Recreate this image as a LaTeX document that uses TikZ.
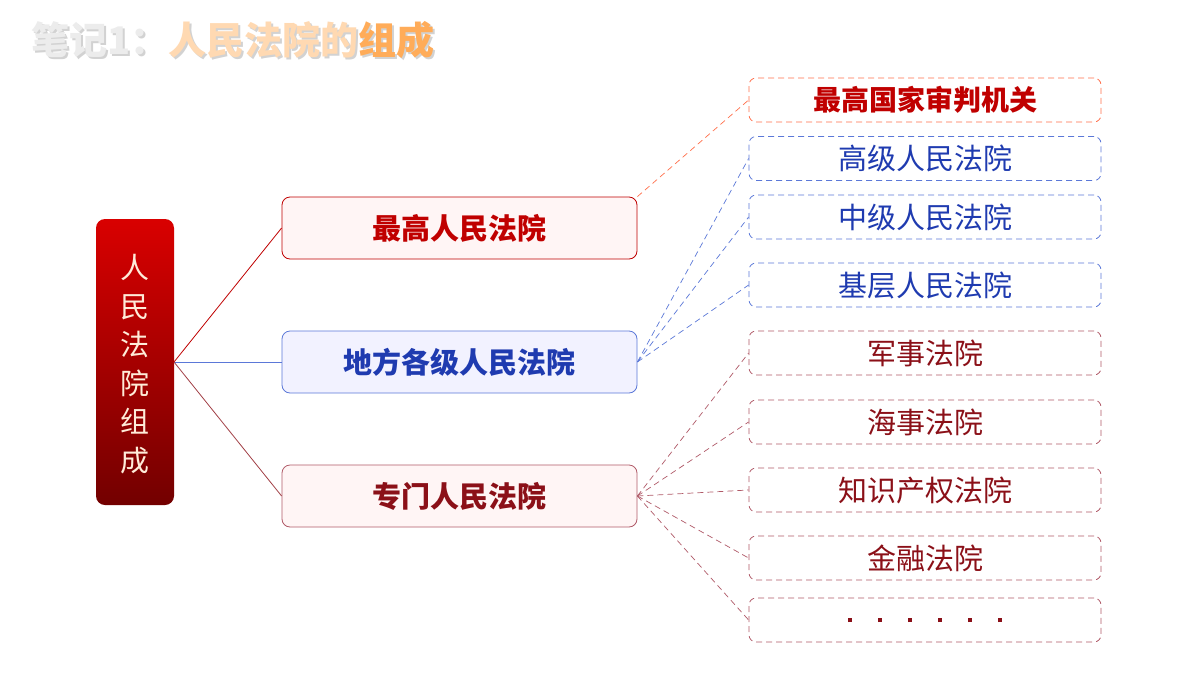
\documentclass[tikz,border=0pt]{standalone}
\usepackage{fontspec}
\newfontfamily\cjk{Noto Sans CJK SC}
\usetikzlibrary{shadows}
\definecolor{cred}{HTML}{C00000}
\definecolor{cblue}{HTML}{1F3BB0}
\definecolor{cdred}{HTML}{8B1018}
\definecolor{lblue}{HTML}{5B78D8}
\definecolor{ldred}{HTML}{B05A68}
\tikzset{
 mid/.style={draw, rounded corners=8pt, minimum width=355pt, minimum height=62pt, font=\cjk\fontsize{29pt}{32pt}\selectfont\bfseries, line width=0.8pt},
 rbox/.style={draw, dash pattern=on 6pt off 4pt, rounded corners=7pt, minimum width=352pt, minimum height=44pt, font=\cjk\fontsize{29pt}{32pt}\selectfont, line width=0.8pt},
 conn/.style={dash pattern=on 6pt off 4pt, line width=0.7pt}
}
\begin{document}
\begin{tikzpicture}[x=1pt,y=-1pt]
\useasboundingbox (0,0) rectangle (1200,675);
\fill[white] (0,0) rectangle (1200,675);
% title
\node[anchor=west, text=gray!35, font=\cjk\fontsize{38pt}{40pt}\selectfont\bfseries] at (30,42) {笔记1：人民法院的组成};
\node[anchor=west, text=gray!15, font=\cjk\fontsize{38pt}{40pt}\selectfont\bfseries] at (28,40) {笔记1：\textcolor{orange!30!white}{人民法院的}\textcolor{orange!65!white}{组成}};
% left box
\shade[top color=red!85!black, bottom color=red!45!black, rounded corners=9pt] (96,219) rectangle (174,505);
\node[inner sep=0, align=center, text=orange!15!white, font=\cjk\fontsize{29pt}{38.5pt}\selectfont] (L) at (135,364) {人\\民\\法\\院\\组\\成};
\coordinate (Lr) at (174,362);
% mid boxes
\node[mid, draw=cred, fill=red!4, text=cred] (M1) at (459.5,228) {最高人民法院};
\node[mid, draw=lblue, fill=blue!5, text=cblue] (M2) at (459.5,362) {地方各级人民法院};
\node[mid, draw=ldred, fill=red!4, text=cdred] (M3) at (459.5,496) {专门人民法院};
\draw[cred, line width=0.8pt] (Lr) -- (M1.west);
\draw[lblue, line width=0.8pt] (Lr) -- (M2.west);
\draw[cdred!80, line width=0.8pt] (Lr) -- (M3.west);
% right boxes
\node[rbox, draw=red!60!orange!70, text=cred, font=\cjk\fontsize{28pt}{32pt}\selectfont\bfseries] (R0) at (925,100) {最高国家审判机关};
\node[rbox, draw=lblue, text=cblue] (R1) at (925,158.5) {高级人民法院};
\node[rbox, draw=lblue, text=cblue] (R2) at (925,217) {中级人民法院};
\node[rbox, draw=lblue, text=cblue] (R3) at (925,285) {基层人民法院};
\node[rbox, draw=ldred, text=cdred] (R4) at (925,353) {军事法院};
\node[rbox, draw=ldred, text=cdred] (R5) at (925,422) {海事法院};
\node[rbox, draw=ldred, text=cdred] (R6) at (925,490) {知识产权法院};
\node[rbox, draw=ldred, text=cdred] (R7) at (925,558) {金融法院};
\node[rbox, draw=ldred, text=cdred] (R8) at (925,620) {\rule{4pt}{4pt}\hspace{26pt}\rule{4pt}{4pt}\hspace{26pt}\rule{4pt}{4pt}\hspace{26pt}\rule{4pt}{4pt}\hspace{26pt}\rule{4pt}{4pt}\hspace{26pt}\rule{4pt}{4pt}};
\draw[conn, red!60!orange!70] (M1.north east) -- (R0.west);
\foreach \r in {R1,R2,R3} \draw[conn, lblue] (M2.east) -- (\r.west);
\foreach \r in {R4,R5,R6,R7,R8} \draw[conn, ldred] (M3.east) -- (\r.west);
\end{tikzpicture}
\end{document}
